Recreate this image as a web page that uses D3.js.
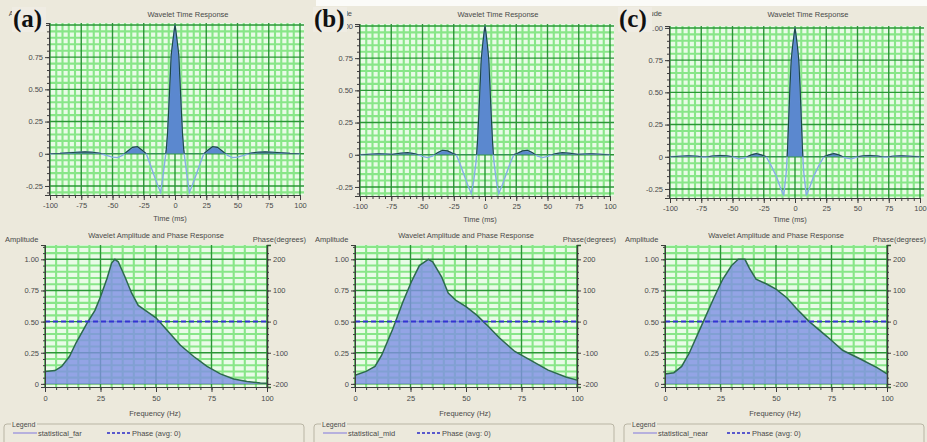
<!DOCTYPE html>
<html>
<head>
<meta charset="utf-8">
<script src="https://cdn.jsdelivr.net/npm/d3@7"></script>
<style>
  html, body { margin: 0; padding: 0; background: #ece9dc; }
  svg { display: block; font-family: "Liberation Sans", Arial, sans-serif; }
</style>
</head>
<body>
<svg id="chart" width="927" height="442"></svg>
<script>
// ---- panel labels and legend names ----
const panelLetters = ["(a)", "(b)", "(c)"];
const wellNames = ["statistical_far", "statistical_mid", "statistical_near"];
const phaseAvgLabel = "Phase (avg: 0)";
const phaseValue = 0;

// ---- tick values ----
const timeTicks = [-100, -75, -50, -25, 0, 25, 50, 75, 100];
const timeAmpTicks = [-0.25, 0, 0.25, 0.5, 0.75, 1.0];
const freqTicks = [0, 25, 50, 75, 100];
const specAmpTicks = [0, 0.25, 0.5, 0.75, 1.0];
const phaseTicks = [-200, -100, 0, 100, 200];

// ---- wavelet time responses (ms, amplitude) ----
const timeA = [-100, -92, -85, -78, -72, -66, -60, -55, -50, -46, -42, -38, -34, -30, -26, -23, -20, -17, -14, -11.5, -10, -8, -7, -6, -5, -4, -3, -2, -1, 0,
               1, 2, 3, 4, 5, 6, 7, 8, 10, 11.5, 14, 17, 20, 23, 26, 30, 34, 38, 42, 46, 50, 55, 60, 66, 72, 78, 85, 92, 100];
const waveA = [0, 0.003, 0.008, 0.012, 0.014, 0.012, 0.004, -0.012, -0.026, -0.03, -0.012, 0.02, 0.05, 0.055, 0.025, 0, -0.08, -0.16, -0.24, -0.3, -0.2, -0.05, 0.03, 0.15, 0.35, 0.56, 0.77, 0.85, 0.93, 1.0,
               0.93, 0.85, 0.77, 0.56, 0.35, 0.15, 0.03, -0.05, -0.2, -0.3, -0.24, -0.16, -0.08, 0, 0.025, 0.055, 0.05, 0.02, -0.012, -0.03, -0.026, -0.012, 0.004, 0.012, 0.014, 0.012, 0.008, 0.003, 0];

const timeB = [-100, -92, -85, -80, -74, -68, -62, -56, -50, -46, -42, -38, -34, -30, -26, -23, -20, -17, -14, -11, -9, -7, -6, -5, -4, -3, -2, -1, 0,
               1, 2, 3, 4, 5, 6, 7, 9, 11, 14, 17, 20, 23, 26, 30, 34, 38, 42, 46, 50, 56, 62, 68, 74, 80, 85, 92, 100];
const waveB = [0, 0.004, 0.008, 0.006, 0.003, 0.012, 0.016, 0.008, -0.012, -0.022, -0.01, 0.015, 0.035, 0.03, 0.012, 0, -0.07, -0.15, -0.23, -0.3, -0.2, -0.04, 0.1, 0.3, 0.52, 0.74, 0.84, 0.93, 1.0,
               0.93, 0.84, 0.74, 0.52, 0.3, 0.1, -0.04, -0.2, -0.3, -0.23, -0.15, -0.07, 0, 0.012, 0.03, 0.035, 0.015, -0.01, -0.022, -0.012, 0.008, 0.016, 0.012, 0.003, 0.006, 0.008, 0.004, 0];

const timeC = [-100, -92, -85, -78, -72, -66, -60, -55, -50, -45, -40, -35, -31, -27, -23, -19, -15, -12, -9, -7, -6, -5, -4, -3, -2, -1, 0,
               1, 2, 3, 4, 5, 6, 7, 9, 12, 15, 19, 23, 27, 31, 35, 40, 45, 50, 55, 60, 66, 72, 78, 85, 92, 100];
const waveC = [0, 0.004, 0.008, 0.004, -0.004, 0.006, 0.01, 0.008, 0, -0.016, -0.008, 0.015, 0.025, 0.015, 0, -0.07, -0.15, -0.23, -0.3, -0.12, 0.05, 0.3, 0.55, 0.75, 0.85, 0.93, 1.0,
               0.93, 0.85, 0.75, 0.55, 0.3, 0.05, -0.12, -0.3, -0.23, -0.15, -0.07, 0, 0.015, 0.025, 0.015, -0.008, -0.016, 0, 0.008, 0.01, 0.006, -0.004, 0.004, 0.008, 0.004, 0];

// ---- amplitude spectra (Hz, normalised amplitude) ----
const freqA = [0, 4.5, 7.5, 11, 14, 19, 22.5, 25, 28, 30, 31.5, 33, 36, 39, 42, 46, 50, 55, 61, 67, 73, 79, 85, 91, 97, 100];
const specA = [0.10, 0.107, 0.14, 0.22, 0.33, 0.49, 0.59, 0.70, 0.85, 0.97, 1.0, 0.98, 0.86, 0.73, 0.63, 0.58, 0.53, 0.43, 0.31, 0.22, 0.14, 0.08, 0.04, 0.02, 0.008, 0.005];

const freqB = [0, 5, 9, 12, 17, 21.6, 25.4, 29, 33, 35, 39, 42, 45.5, 50, 55, 59, 65, 72, 80, 87, 95, 100];
const specB = [0.07, 0.10, 0.14, 0.23, 0.44, 0.66, 0.82, 0.95, 1.0, 0.98, 0.86, 0.73, 0.67, 0.62, 0.55, 0.48, 0.37, 0.26, 0.18, 0.11, 0.055, 0.03];

const freqC = [0, 4, 7.5, 11, 16.5, 22, 26, 30, 33, 36, 38, 41, 46, 50, 55, 59, 65, 73, 80, 88, 95.5, 100];
const specC = [0.08, 0.09, 0.14, 0.25, 0.47, 0.69, 0.84, 0.95, 1.0, 1.0, 0.93, 0.84, 0.80, 0.76, 0.69, 0.61, 0.50, 0.38, 0.27, 0.20, 0.13, 0.08];

// ---- drawing ----
const W = 927, H = 442;
const svg = d3.select("#chart");
svg.append("rect").attr("width", W).attr("height", H).attr("fill", "#ece9dc");
svg.append("rect").attr("x", 316).attr("y", 0).attr("width", W - 316).attr("height", 6).attr("fill", "#fbfbf8");

const panels = [
  { letter: panelLetters[0], well: wellNames[0], t: timeA, w: waveA, f: freqA, s: specA, dy: 0, lx: 9 },
  { letter: panelLetters[1], well: wellNames[1], t: timeB, w: waveB, f: freqB, s: specB, dy: 1, lx: 0 },
  { letter: panelLetters[2], well: wellNames[2], t: timeC, w: waveC, f: freqC, s: specC, dy: 3, lx: -5 }
];

const TXT = "#4a4a4a";
const FS = 7.5;
const MINOR = "#88e688", MAJOR = "#2a9636", BG = "#e9fbe7";

function isMult(v, step) { return Math.abs(v / step - Math.round(v / step)) < 1e-6; }
function fmtAmp(v) { return v === 0 ? "0" : v.toFixed(2); }

function drawGrid(g, x, y, xs, ys, xStep, yStep, bounds) {
  const [x0, x1, y0, y1] = bounds;
  const grid = g.append("g");
  // minor lines first, majors on top
  [false, true].forEach(major => {
    grid.selectAll(null).data(xs.filter(v => isMult(v, xStep) === major)).join("line")
      .attr("x1", d => x(d)).attr("x2", d => x(d)).attr("y1", y0).attr("y2", y1)
      .attr("stroke", major ? MAJOR : MINOR).attr("stroke-width", major ? 1.4 : 2.1);
    grid.selectAll(null).data(ys.filter(v => isMult(v, yStep) === major)).join("line")
      .attr("y1", d => y(d)).attr("y2", d => y(d)).attr("x1", x0).attr("x2", x1)
      .attr("stroke", major ? MAJOR : MINOR).attr("stroke-width", major ? 1.4 : 2.1);
  });
}

function styleAxis(a) {
  a.select(".domain").attr("stroke", "#3d3d3d");
  a.selectAll(".tick line").attr("stroke", "#3d3d3d");
  a.selectAll(".tick text").attr("fill", TXT).attr("font-size", FS).attr("font-family", "Liberation Sans, Arial, sans-serif");
}

panels.forEach((p, i) => {
  const ox = i * 310;
  const g = svg.append("g").attr("transform", `translate(${ox},0)`);
  const dy = p.dy;

  // ===== Wavelet time response =====
  const xT = d3.scaleLinear().domain([-100, 100]).range([50, 300]);
  const yT = d3.scaleLinear().domain([-0.32, 1.015]).range([195 + dy, 23 + dy]);
  const tb = [49, 304, 195 + dy, 23 + dy];
  g.append("rect").attr("x", tb[0]).attr("y", tb[3]).attr("width", tb[1] - tb[0]).attr("height", tb[2] - tb[3]).attr("fill", BG);
  drawGrid(g, xT, yT, d3.range(-20, 21).map(k => k * 5), d3.range(-6, 21).map(k => k * 0.05), 25, 0.25, tb);

  const pts = p.t.map((t, k) => [t, p.w[k]]);
  const clipId = `pos${i}`;
  g.append("clipPath").attr("id", clipId).append("rect")
    .attr("x", 49).attr("y", 0).attr("width", 255).attr("height", yT(0));
  const area = d3.area().x(d => xT(d[0])).y0(yT(0)).y1(d => yT(d[1]));
  const line = d3.line().x(d => xT(d[0])).y(d => yT(d[1]));
  g.append("path").attr("d", area(pts)).attr("fill", "#5b88cf").attr("clip-path", `url(#${clipId})`);
  g.append("path").attr("d", line(pts)).attr("fill", "none").attr("stroke", "#86ade6").attr("stroke-width", 1.4);
  g.append("path").attr("d", line(pts)).attr("fill", "none").attr("stroke", "#1e4a46").attr("stroke-width", 1.2)
    .attr("clip-path", `url(#${clipId})`);

  // axes
  const axL = g.append("g").attr("transform", `translate(49,0)`)
    .call(d3.axisLeft(yT).tickValues(timeAmpTicks).tickSize(4).tickPadding(2).tickFormat(fmtAmp));
  styleAxis(axL);
  const axLm = g.append("g").attr("transform", `translate(49,0)`)
    .call(d3.axisLeft(yT).tickValues(d3.range(-6, 21).map(k => k * 0.05)).tickSize(2).tickFormat(""));
  styleAxis(axLm);
  const axB = g.append("g").attr("transform", `translate(0,${195 + dy})`)
    .call(d3.axisBottom(xT).tickValues(timeTicks).tickSize(5).tickPadding(3).tickFormat(d => String(d)));
  styleAxis(axB);
  const axBm = g.append("g").attr("transform", `translate(0,${195 + dy})`)
    .call(d3.axisBottom(xT).tickValues(d3.range(-20, 21).map(k => k * 5)).tickSize(3).tickFormat(""));
  styleAxis(axBm);

  g.append("text").attr("x", 188).attr("y", 17).attr("text-anchor", "middle")
    .attr("font-size", FS).attr("fill", TXT).text("Wavelet Time Response");
  g.append("text").attr("x", 170).attr("y", 221 + Math.min(dy, 1)).attr("text-anchor", "middle")
    .attr("font-size", FS).attr("fill", TXT).text("Time (ms)");
  g.append("text").attr("x", 42).attr("y", 16).attr("text-anchor", "end")
    .attr("font-size", FS).attr("fill", TXT).text("Amplitude");

  // panel letter
  g.append("rect").attr("x", p.lx + 3).attr("y", 7).attr("width", 34).attr("height", 25).attr("fill", "#efece3");
  g.append("text").attr("x", p.lx + 4).attr("y", 27)
    .attr("font-family", "Liberation Serif, Times New Roman, serif").attr("font-weight", "bold")
    .attr("font-size", 25).attr("fill", "#111").text(p.letter);

  // ===== Amplitude and phase spectrum =====
  const xF = d3.scaleLinear().domain([0, 100]).range([45, 267]);
  const yA = d3.scaleLinear().domain([-0.025, 1.115]).range([387, 245]);
  const yP = d3.scaleLinear().domain([-210, 246]).range([387, 245]);
  g.append("rect").attr("x", 45).attr("y", 245).attr("width", 222).attr("height", 142).attr("fill", BG);
  drawGrid(g, xF, yA, d3.range(0, 21).map(k => k * 5), d3.range(0, 23).map(k => k * 0.05), 25, 0.25, [45, 267, 387, 245]);

  const spec = p.f.map((f, k) => [f, p.s[k]]);
  const sArea = d3.area().x(d => xF(d[0])).y0(yA(0)).y1(d => yA(d[1]));
  const sLine = d3.line().x(d => xF(d[0])).y(d => yA(d[1]));
  g.append("path").attr("d", sArea(spec)).attr("fill", "#8090e4").attr("fill-opacity", 0.82);
  g.append("path").attr("d", sLine(spec)).attr("fill", "none").attr("stroke", "#2c6a4c").attr("stroke-width", 1.5);

  // phase (average) as dashed line
  g.append("line").attr("x1", xF(0)).attr("x2", xF(100)).attr("y1", yP(phaseValue)).attr("y2", yP(phaseValue))
    .attr("stroke", "#3434d2").attr("stroke-width", 2).attr("stroke-dasharray", "5,3");

  const bL = g.append("g").attr("transform", `translate(45,0)`)
    .call(d3.axisLeft(yA).tickValues(specAmpTicks).tickSize(4).tickPadding(2).tickFormat(fmtAmp));
  styleAxis(bL);
  const bLm = g.append("g").attr("transform", `translate(45,0)`)
    .call(d3.axisLeft(yA).tickValues(d3.range(0, 23).map(k => k * 0.05)).tickSize(2).tickFormat(""));
  styleAxis(bLm);
  const bR = g.append("g").attr("transform", `translate(267,0)`)
    .call(d3.axisRight(yP).tickValues(phaseTicks).tickSize(4).tickPadding(2).tickFormat(d => String(d)));
  styleAxis(bR);
  bR.select(".domain").attr("stroke", "#2a6a2a").attr("stroke-width", 1.5);
  const bRm = g.append("g").attr("transform", `translate(267,0)`)
    .call(d3.axisRight(yP).tickValues(d3.range(-10, 12).map(k => k * 20)).tickSize(2).tickFormat(""));
  styleAxis(bRm);
  const bB = g.append("g").attr("transform", `translate(0,387)`)
    .call(d3.axisBottom(xF).tickValues(freqTicks).tickSize(5).tickPadding(4).tickFormat(d => String(d)));
  styleAxis(bB);
  const bBm = g.append("g").attr("transform", `translate(0,387)`)
    .call(d3.axisBottom(xF).tickValues(d3.range(0, 21).map(k => k * 5)).tickSize(3).tickFormat(""));
  styleAxis(bBm);

  g.append("text").attr("x", 156).attr("y", 238).attr("text-anchor", "middle")
    .attr("font-size", FS).attr("fill", TXT).text("Wavelet Amplitude and Phase Response");
  g.append("text").attr("x", 5).attr("y", 242).attr("font-size", FS).attr("fill", TXT).text("Amplitude");
  g.append("text").attr("x", 306).attr("y", 242).attr("text-anchor", "end")
    .attr("font-size", FS).attr("fill", TXT).text("Phase(degrees)");
  g.append("text").attr("x", 155).attr("y", 416).attr("text-anchor", "middle")
    .attr("font-size", FS).attr("fill", TXT).text("Frequency (Hz)");

  // legend group box
  const lg = g.append("g");
  lg.append("rect").attr("x", 4).attr("y", 424).attr("width", 300).attr("height", 30).attr("rx", 3)
    .attr("fill", "none").attr("stroke", "#b9b5a4");
  lg.append("rect").attr("x", 11).attr("y", 419).attr("width", 26).attr("height", 9).attr("fill", "#ece9dc");
  lg.append("text").attr("x", 12).attr("y", 427).attr("font-size", 7).attr("fill", TXT).text("Legend");
  lg.append("line").attr("x1", 13).attr("x2", 37).attr("y1", 433).attr("y2", 433)
    .attr("stroke", "#9a92de").attr("stroke-width", 1.3);
  lg.append("text").attr("x", 38).attr("y", 436).attr("font-size", FS).attr("fill", TXT).text(p.well);
  lg.append("line").attr("x1", 107).attr("x2", 131).attr("y1", 433).attr("y2", 433)
    .attr("stroke", "#2a2ac6").attr("stroke-width", 1.6).attr("stroke-dasharray", "3,2");
  lg.append("text").attr("x", 132).attr("y", 436).attr("font-size", FS).attr("fill", TXT).text(phaseAvgLabel);
});
</script>
</body>
</html>
